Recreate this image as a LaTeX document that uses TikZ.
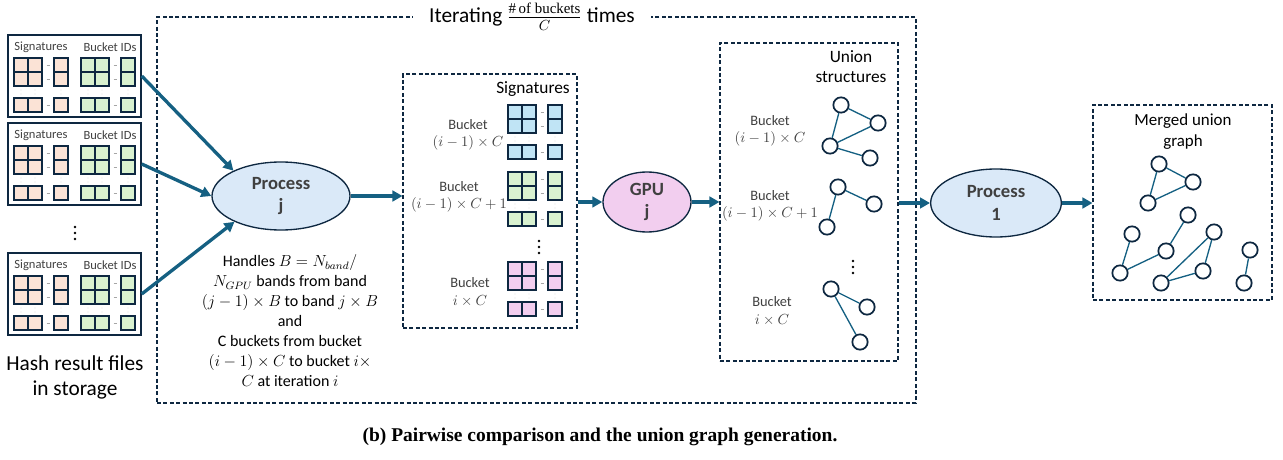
\documentclass[tikz,border=0pt]{standalone}
\usepackage{amsmath}
\usepackage{fontspec}
\setmainfont{Carlito}
\newfontfamily\serifface{Liberation Serif}
\usetikzlibrary{arrows.meta,shapes.geometric,fit}

\definecolor{navy}{HTML}{0E2841}
\definecolor{flow}{HTML}{156082}
\definecolor{cellpink}{HTML}{FBE3D6}
\definecolor{cellgreen}{HTML}{D9F2D0}
\definecolor{cellblue}{HTML}{C0E4F5}
\definecolor{cellmag}{HTML}{F2CEEF}
\definecolor{procfill}{HTML}{DAE9F8}
\definecolor{labelgray}{HTML}{404040}
\definecolor{sepgray}{HTML}{A6A6A6}

\tikzset{
  cellbox/.style={draw=navy,line width=1.2pt},
  filebox/.style={draw=navy,line width=1.1pt,inner sep=0pt},
  dbox/.style={draw=navy,line width=0.8pt,dash pattern=on 3pt off 1.8pt,inner sep=0pt},
  arr/.style={draw=flow,line width=2.5pt,-{Triangle[length=7.5pt,width=8pt]}},
  proc/.style={ellipse,draw=navy,line width=1pt,fill=procfill,inner sep=0pt,align=center,
    font=\fontsize{14}{17}\selectfont\bfseries,text=labelgray},
  gnode/.style={circle,draw=navy,line width=1.3pt,fill=white,minimum size=11.5pt,inner sep=0pt},
  gedge/.style={draw=flow,line width=1pt},
  filelbl/.style={font=\fontsize{9.4}{11}\selectfont,text=labelgray,inner sep=0pt},
  bktlbl/.style={align=center,font=\fontsize{10.8}{13}\selectfont,text=labelgray,inner sep=0pt},
  boxtitle/.style={align=center,font=\fontsize{13}{15}\selectfont,inner sep=0pt},
}

% three stacked dots marking omitted entries
\newcommand\stackdots[2]{%
  \fill[black] (#1,#2-6) circle (1.1pt) (#1,#2) circle (1.1pt) (#1,#2+6) circle (1.1pt);}

% a block of signature / bucket-id cells: 2x2 grid, extra column, bottom row
\newcommand\cellgrp[3]{%
  \begin{scope}[shift={(#1,#2)}]
    \foreach \cx/\cy in {0/0,14/0,0/14,14/14,40/0,40/14,0/40,14/40,40/40}
      \draw[cellbox,fill=#3] (\cx,\cy) rectangle ++(14,14);
    \foreach \cy in {7,21,47}
      \draw[sepgray,line width=0.4pt] (32.5,\cy) -- (35.5,\cy);
    \foreach \cx in {7,21,47}
      \fill[sepgray] (\cx,32) circle (0.35pt) (\cx,36) circle (0.35pt);
  \end{scope}}

% one hash result file
\newcommand\hashfile[2]{%
  \node[filebox,fit={(8,35+#2) (141,117+#2)}] (#1) {};
  \node[filelbl] (#1-sig) at (41,47+#2) {Signatures};
  \node[filelbl] (#1-bid) at (110,47+#2) {Bucket IDs};
  \cellgrp{14}{58+#2}{cellpink}
  \cellgrp{81}{58+#2}{cellgreen}}

\begin{document}
\begin{tikzpicture}[x=0.75pt,y=-0.75pt]
\useasboundingbox (0,0) rectangle (1283,460);

% iteration frame and its title
\node[dbox,fit={(157,17) (916,403)}] (iterbox) {};
\node[fill=white,inner xsep=12pt,inner ysep=2pt,font=\fontsize{16}{19}\selectfont] (iter) at (532,17)
  {Iterating $\frac{\text{\serifface\#\,of buckets}}{C}$ times};

% hash result files in storage
\hashfile{f1}{0}
\hashfile{f2}{88}
\hashfile{f3}{218}
\stackdots{75}{233}
\node[align=center,font=\fontsize{16}{18.75}\selectfont] (hash) at (75,377) {Hash result files\\in storage};

% process j
\node[proc,minimum width=103.5pt,minimum height=51pt] (pj) at (281,196) {Process\\j};
\draw[arr] (f1.east) -- (pj.152);
\draw[arr] (f2.east) -- (pj.west);
\draw[arr] (f3.east) -- (pj.209);

\node[align=center,font=\fontsize{12}{15}\selectfont] (hand) at (290,321)
  {Handles $B = N_{band}/$\\
   $N_{GPU}$ bands from band\\
   $(j-1)\times B$ to band $j\times B$\\
   and\\
   C buckets from bucket\\
   $(i-1)\times C$ to bucket $i\times$\\
   $C$ at iteration $i$};

% signatures of the buckets handled in this iteration
\node[dbox,fit={(403,74) (577,328)}] (sig) {};
\node[boxtitle] (sigttl) at (533,89) {Signatures};
\cellgrp{508}{105}{cellblue}
\cellgrp{508}{172}{cellgreen}
\cellgrp{508}{262}{cellmag}
\stackdots{539}{247}
\node[bktlbl] (sb1) at (468,135) {Bucket\\$(i-1)\times C$};
\node[bktlbl] (sb2) at (459,197) {Bucket\\$(i-1)\times C+1$};
\node[bktlbl] (sb3) at (470,292) {Bucket\\$i\times C$};
\draw[arr] (pj.east) -- (pj.east -| sig.west);

% GPU j
\node[proc,fill=cellmag,minimum width=66pt,minimum height=45pt] (gpu) at (647,202) {GPU\\j};
\draw[arr] (gpu.west -| sig.east) -- (gpu.west);

% union structures per bucket
\node[dbox,fit={(720,43) (898,361)}] (uni) {};
\node[boxtitle] (unittl) at (851,67) {Union\\structures};
\node[bktlbl] (ub1) at (770,131) {Bucket\\$(i-1)\times C$};
\node[bktlbl] (ub2) at (770,206) {Bucket\\$(i-1)\times C+1$};
\node[bktlbl] (ub3) at (772,311) {Bucket\\$i\times C$};
\stackdots{853}{267}

\node[gnode] (u1a) at (841,105) {};
\node[gnode] (u1b) at (878,123) {};
\node[gnode] (u1c) at (830,146) {};
\node[gnode] (u1d) at (870,158) {};
\draw[gedge] (u1a) -- (u1b) (u1a) -- (u1c) (u1c) -- (u1b) (u1c) -- (u1d);

\node[gnode] (u2a) at (838,187) {};
\node[gnode] (u2b) at (874,204) {};
\node[gnode] (u2c) at (827,227) {};
\draw[gedge] (u2a) -- (u2b) (u2a) -- (u2c);

\node[gnode] (u3a) at (831,289) {};
\node[gnode] (u3b) at (867,307) {};
\node[gnode] (u3c) at (860,342) {};
\draw[gedge] (u3a) -- (u3b) (u3a) -- (u3c);

\draw[arr] (gpu.east) -- (gpu.east -| uni.west);

% process 1 merges the union structures
\node[proc,minimum width=98pt,minimum height=51pt] (p1) at (996,203) {Process\\1};
\draw[arr] (p1.west -| uni.east) -- (p1.west);

% merged union graph
\node[dbox,fit={(1093,105) (1272,300)}] (mg) {};
\node[boxtitle,font=\fontsize{12.7}{15.75}\selectfont] (mgttl) at (1183,132) {Merged union\\graph};
\draw[arr] (p1.east) -- (p1.east -| mg.west);

\node[gnode] (m1) at (1159,164) {};
\node[gnode] (m2) at (1193,182) {};
\node[gnode] (m3) at (1148,203) {};
\draw[gedge] (m1) -- (m2) (m1) -- (m3) (m3) -- (m2);

\node[gnode] (m4) at (1188,215) {};
\node[gnode] (m5) at (1132,234) {};
\node[gnode] (m6) at (1166,251) {};
\node[gnode] (m7) at (1120,273) {};
\draw[gedge] (m5) -- (m7) (m7) -- (m6) (m6) -- (m4);

\node[gnode] (m8) at (1214,232) {};
\node[gnode] (m9) at (1203,271) {};
\node[gnode] (m10) at (1161,283) {};
\draw[gedge] (m10) -- (m8) (m10) -- (m9) (m9) -- (m8);

\node[gnode] (m11) at (1250,250) {};
\node[gnode] (m12) at (1244,283) {};
\draw[gedge] (m11) -- (m12);

% caption
\node[font=\serifface\bfseries\fontsize{14.6}{17}\selectfont] (cap) at (600,437)
  {(b) Pairwise comparison and the union graph generation.};
\end{tikzpicture}
\end{document}
